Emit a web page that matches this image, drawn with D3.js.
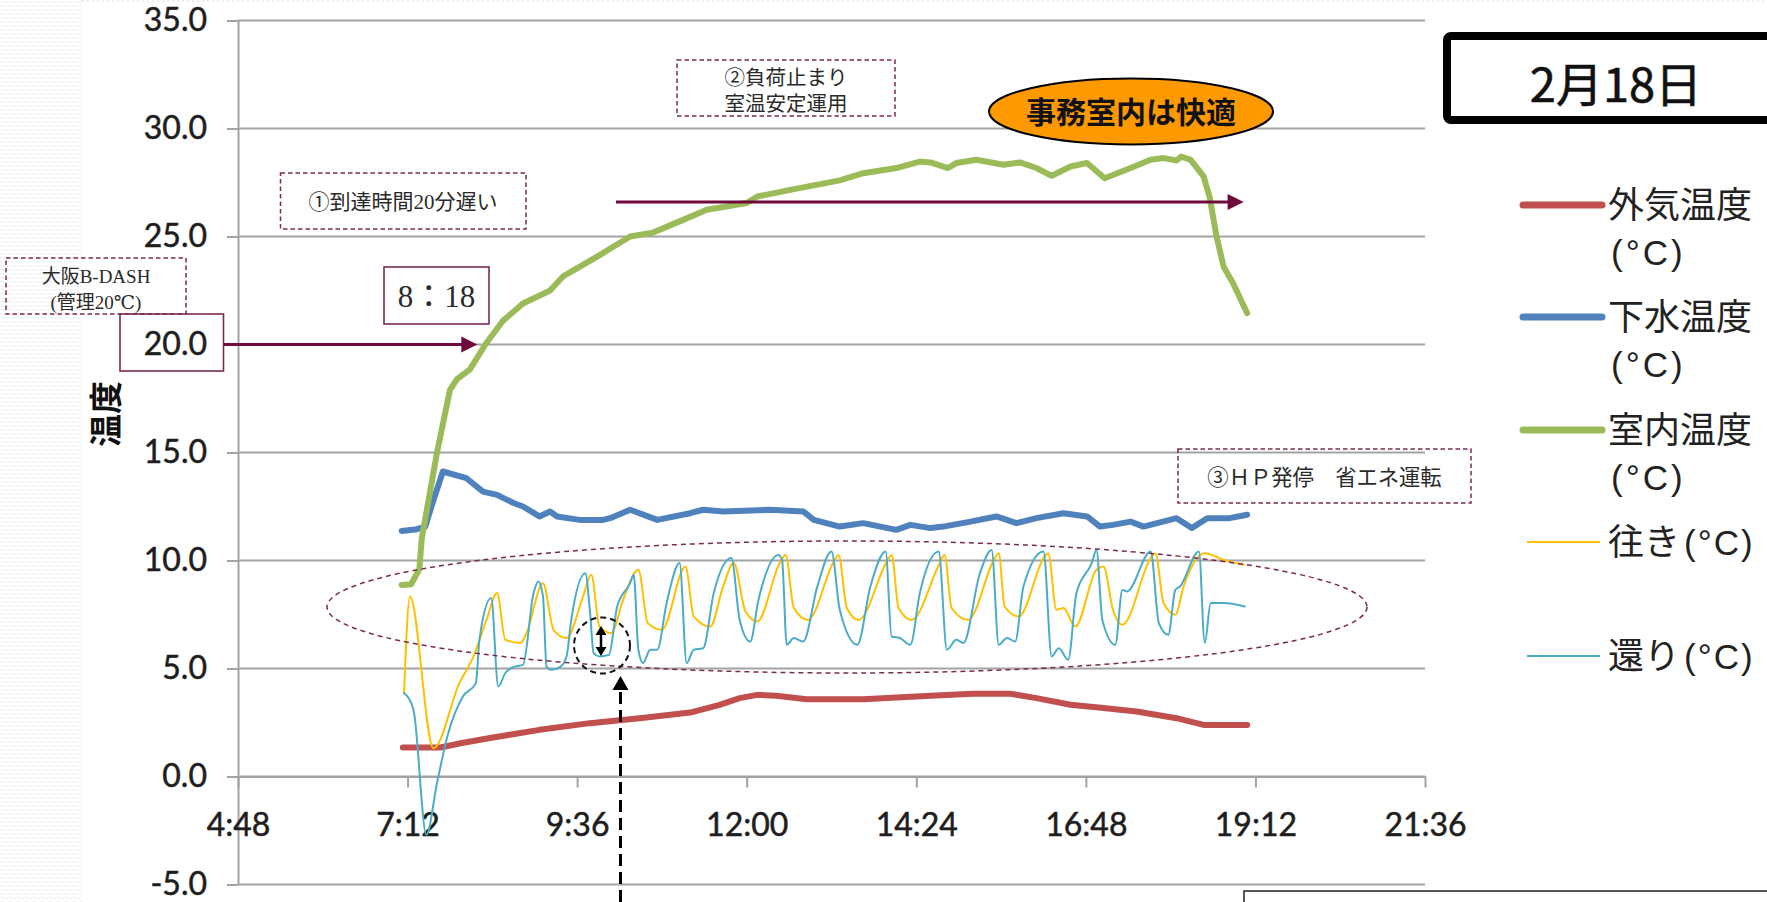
<!DOCTYPE html>
<html>
<head>
<meta charset="utf-8">
<script src="https://cdn.jsdelivr.net/npm/d3@7"></script>
<style>
  html, body { margin: 0; padding: 0; background: #fff; overflow: hidden; }
  svg { display: block; }
</style>
</head>
<body>
<svg id="chart" width="1767" height="902"></svg>
<script>
// ---------------- data ----------------
const xTickLabels = ["4:48", "7:12", "9:36", "12:00", "14:24", "16:48", "19:12", "21:36"];
const yTickValues = [-5, 0, 5, 10, 15, 20, 25, 30, 35];

// 外気温度 (outdoor air)
const outdoorTemp = [
  ["7:08", 1.34], ["7:40", 1.34], ["7:57", 1.54], ["8:22", 1.78], ["9:04", 2.16], ["9:47", 2.47],
  ["10:29", 2.70], ["11:12", 2.96], ["11:37", 3.32], ["11:54", 3.63], ["12:09", 3.78], ["12:25", 3.74],
  ["12:51", 3.58], ["13:39", 3.58], ["14:36", 3.74], ["15:12", 3.83], ["15:44", 3.83], ["16:06", 3.63],
  ["16:35", 3.32], ["17:03", 3.17], ["17:31", 3.01], ["18:05", 2.70], ["18:28", 2.39], ["19:05", 2.39]
];

// 下水温度 (sewage water)
const sewageTemp = [
  ["7:07", 11.37], ["7:20", 11.45], ["7:27", 11.57], ["7:34", 12.8], ["7:42", 14.12], ["8:02", 13.81],
  ["8:16", 13.19], ["8:28", 13.04], ["8:42", 12.66], ["8:50", 12.50], ["9:04", 12.04], ["9:13", 12.27],
  ["9:19", 12.04], ["9:38", 11.88], ["9:58", 11.88], ["10:04", 11.96], ["10:21", 12.35], ["10:44", 11.88],
  ["11:12", 12.19], ["11:23", 12.35], ["11:40", 12.27], ["12:20", 12.35], ["12:48", 12.27], ["12:57", 11.88],
  ["13:19", 11.57], ["13:39", 11.73], ["14:07", 11.42], ["14:19", 11.65], ["14:36", 11.50], ["14:47", 11.57],
  ["15:10", 11.80], ["15:32", 12.04], ["15:49", 11.73], ["16:06", 11.96], ["16:29", 12.19], ["16:49", 12.04],
  ["17:00", 11.57], ["17:11", 11.65], ["17:26", 11.80], ["17:37", 11.57], ["18:05", 11.96], ["18:18", 11.50],
  ["18:31", 11.96], ["18:50", 11.96], ["19:05", 12.12]
];

// 室内温度 (office room)
const roomTemp = [
  ["7:07", 8.87], ["7:15", 8.90], ["7:22", 9.60], ["7:24", 11.0], ["7:37", 15.0], ["7:48", 17.9],
  ["7:54", 18.4], ["8:05", 18.85], ["8:18", 20.0], ["8:33", 21.1], ["8:50", 21.9], ["9:13", 22.5],
  ["9:24", 23.15], ["9:53", 24.07], ["10:21", 25.0], ["10:40", 25.17], ["11:03", 25.7], ["11:26", 26.24],
  ["12:00", 26.55], ["12:09", 26.85], ["12:37", 27.16], ["13:19", 27.6], ["13:39", 27.93], ["14:07", 28.17],
  ["14:27", 28.47], ["14:36", 28.43], ["14:51", 28.17], ["14:58", 28.4], ["15:15", 28.55], ["15:38", 28.32],
  ["15:52", 28.43], ["16:06", 28.17], ["16:19", 27.81], ["16:35", 28.24], ["16:49", 28.4], ["17:04", 27.7],
  ["17:26", 28.17], ["17:43", 28.55], ["17:54", 28.63], ["18:05", 28.52], ["18:09", 28.7], ["18:17", 28.55],
  ["18:28", 27.78], ["18:33", 26.85], ["18:39", 25.0], ["18:45", 23.6], ["18:53", 22.84], ["19:05", 21.45]
];

// 往き (supply water)
const supplyTemp = [
  ["7:09", 3.86], ["7:14", 8.33], ["7:34", 1.31], ["7:56", 4.32], ["8:08", 5.56], ["8:19", 7.25],
  ["8:28", 8.49], ["8:35", 6.33], ["8:48", 6.18], ["8:53", 6.64], ["9:07", 8.95], ["9:16", 6.79],
  ["9:27", 6.41], ["9:41", 8.33], ["9:48", 9.34], ["9:55", 6.94], ["10:05", 6.64], ["10:15", 8.18],
  ["10:28", 9.57], ["10:36", 7.10], ["10:48", 6.79], ["11:08", 9.72], ["11:15", 7.41], ["11:29", 6.94],
  ["11:40", 8.80], ["11:49", 9.88], ["11:59", 7.64], ["12:09", 7.18], ["12:28", 9.88], ["12:33", 10.26],
  ["12:40", 7.80], ["12:52", 7.25], ["13:14", 9.95], ["13:18", 10.26], ["13:25", 7.80], ["13:35", 7.25],
  ["13:59", 9.95], ["14:03", 10.26], ["14:09", 7.80], ["14:20", 7.25], ["14:44", 9.88], ["14:48", 10.26],
  ["14:54", 7.80], ["15:08", 7.25], ["15:30", 10.03], ["15:34", 10.34], ["15:39", 7.87], ["15:51", 7.41],
  ["16:13", 10.19], ["16:16", 10.34], ["16:23", 7.72], ["16:29", 7.80], ["16:39", 6.94], ["16:57", 9.57],
  ["17:03", 9.72], ["17:11", 7.72], ["17:19", 7.02], ["17:44", 10.19], ["17:47", 10.34], ["17:54", 8.03],
  ["18:04", 7.49], ["18:11", 8.80], ["18:29", 10.34], ["18:45", 10.03], ["19:02", 9.80]
];

// 還り (return water)
const returnTemp = [
  ["7:09", 3.86], ["7:17", 3.09], ["7:28", -2.7], ["7:37", -0.3], ["7:46", 1.9], ["7:59", 3.7],
  ["8:10", 4.32], ["8:13", 6.33], ["8:23", 8.26], ["8:29", 4.17], ["8:35", 4.79], ["8:43", 5.09],
  ["8:50", 5.17], ["8:59", 8.49], ["9:03", 9.03], ["9:07", 8.33], ["9:10", 5.09], ["9:14", 4.94],
  ["9:22", 5.09], ["9:27", 5.56], ["9:31", 7.25], ["9:43", 9.41], ["9:47", 7.56], ["9:50", 5.71],
  ["9:55", 5.56], ["10:03", 5.63], ["10:10", 7.87], ["10:21", 8.95], ["10:24", 9.34], ["10:28", 5.87],
  ["10:32", 5.25], ["10:38", 5.87], ["10:44", 5.87], ["10:52", 8.03], ["11:03", 9.88], ["11:09", 5.25],
  ["11:15", 5.87], ["11:23", 5.94], ["11:32", 8.49], ["11:47", 10.11], ["11:54", 7.25], ["12:03", 6.25],
  ["12:10", 8.18], ["12:27", 10.26], ["12:30", 10.03], ["12:34", 6.10], ["12:40", 6.41], ["12:48", 6.25],
  ["13:00", 8.80], ["13:12", 10.42], ["13:19", 7.72], ["13:34", 6.10], ["13:45", 8.80], ["13:58", 10.42],
  ["14:03", 6.48], ["14:10", 6.41], ["14:19", 6.10], ["14:27", 8.49], ["14:43", 10.42], ["14:50", 5.87],
  ["14:58", 6.33], ["15:04", 6.18], ["15:18", 9.41], ["15:28", 10.49], ["15:34", 6.10], ["15:41", 6.41],
  ["15:48", 6.25], ["15:55", 8.80], ["16:12", 10.42], ["16:19", 5.56], ["16:25", 5.94], ["16:33", 5.40],
  ["16:40", 8.49], ["16:53", 9.88], ["16:57", 10.49], ["17:02", 7.25], ["17:13", 6.10], ["17:19", 8.64],
  ["17:23", 8.57], ["17:43", 10.42], ["17:50", 7.10], ["17:58", 6.56], ["18:04", 8.64], ["18:08", 8.80],
  ["18:24", 10.42], ["18:29", 6.18], ["18:34", 8.03], ["18:45", 8.03], ["19:03", 7.87]
];

const seriesNames = ["外気温度", "下水温度", "室内温度", "往き", "還り"];
const seriesColors = ["#C0504D", "#4F81BD", "#9BBB59", "#FFC000", "#4BACC6"];
const seriesData = [outdoorTemp, sewageTemp, roomTemp, supplyTemp, returnTemp];
const unitLabel = "(°C)";
const dateLabel = "2月18日";
const yAxisTitle = "温度";

// ---------------- helpers ----------------
const hrs = s => { const [h, m] = s.split(":").map(Number); return h + m / 60; };
const svg = d3.select("#chart");
const W = 1767, H = 902;
const MAROON = "#7b2a52", ARROW = "#6e0b3c";
const tickFont = "Lato, 'Open Sans', 'Liberation Sans', sans-serif";
const jpSans = "'Noto Sans CJK JP', 'Noto Sans', sans-serif";
const unitFont = "'Liberation Sans', Arial, sans-serif";
const jpSerif = "'Liberation Serif', 'DejaVu Serif', 'Noto Sans CJK JP', serif";

const defs = svg.append("defs");
const pat = defs.append("pattern").attr("id", "weave")
  .attr("width", 8).attr("height", 4).attr("patternUnits", "userSpaceOnUse");
pat.append("path").attr("d", "M0,2 Q2,0.5 4,2 T8,2")
  .attr("fill", "none").attr("stroke", "#ebebeb").attr("stroke-width", 0.8);
defs.append("filter").attr("id", "soft").append("feGaussianBlur").attr("stdDeviation", 0.6);

// page background
svg.append("rect").attr("width", W).attr("height", H).attr("fill", "#fff");
svg.append("rect").attr("x", 0).attr("y", 0).attr("width", 82).attr("height", H).attr("fill", "url(#weave)");
svg.append("line").attr("x1", 82).attr("x2", W).attr("y1", 1).attr("y2", 1)
  .attr("stroke", "#dcdcdc").attr("stroke-dasharray", "2,3");

// ---------------- scales ----------------
const x = d3.scaleLinear()
  .domain([hrs(xTickLabels[0]), hrs(xTickLabels[xTickLabels.length - 1])])
  .range([238, 1425]);
const y = d3.scaleLinear().domain([-5, 35]).range([884.5, 20.5]);

// ---------------- grid ----------------
const GRID = "#a3a3a3";
svg.append("g").selectAll("line").data(yTickValues).join("line")
  .attr("x1", x.range()[0]).attr("x2", x.range()[1])
  .attr("y1", d => y(d)).attr("y2", d => y(d))
  .attr("stroke", GRID).attr("stroke-width", 2);

// y axis
const yAxis = svg.append("g").attr("transform", `translate(${x.range()[0]},0)`)
  .call(d3.axisLeft(y).tickValues(yTickValues).tickFormat(d => d.toFixed(1))
    .tickSize(11).tickSizeOuter(0).tickPadding(20));
yAxis.select(".domain").attr("stroke", GRID).attr("stroke-width", 2);
yAxis.selectAll(".tick line").attr("stroke", GRID).attr("stroke-width", 2);
yAxis.selectAll("text").attr("font-family", tickFont).attr("font-size", 32).attr("fill", "#1e1e1e")
  .attr("stroke", "#1e1e1e").attr("stroke-width", 0.5);

// x axis sits on the 0 line
const xAxis = svg.append("g").attr("transform", `translate(0,${y(0)})`)
  .call(d3.axisBottom(x).tickValues(xTickLabels.map(hrs)).tickFormat((d, i) => xTickLabels[i])
    .tickSize(11).tickSizeOuter(0).tickPadding(26));
xAxis.select(".domain").attr("stroke", GRID).attr("stroke-width", 2);
xAxis.selectAll(".tick line").attr("stroke", GRID).attr("stroke-width", 2);
xAxis.selectAll("text").attr("font-family", tickFont).attr("font-size", 32).attr("fill", "#1e1e1e")
  .attr("stroke", "#1e1e1e").attr("stroke-width", 0.5);

// y axis title
svg.append("text").attr("transform", "translate(118,414) rotate(-90)")
  .attr("text-anchor", "middle").attr("font-family", jpSans).attr("font-weight", 700)
  .attr("font-size", 33).attr("fill", "#111").text(yAxisTitle);

// ---------------- series ----------------
const widths = [6, 6, 6, 2, 2];
const lineThick = d3.line().x(d => x(hrs(d[0]))).y(d => y(d[1]));
const lineThin = d3.line().x(d => x(hrs(d[0]))).y(d => y(d[1])).curve(d3.curveMonotoneX);
seriesData.forEach((data, i) => {
  const thick = widths[i] > 3;
  svg.append("path").datum(data).attr("d", thick ? lineThick : lineThin)
    .attr("fill", "none").attr("stroke", seriesColors[i]).attr("stroke-width", widths[i])
    .attr("stroke-linejoin", "round").attr("stroke-linecap", "round")
    .attr("filter", thick ? "url(#soft)" : null);
});

// ---------------- legend ----------------
const legendY = [205, 317, 430, 542, 656];
const lg = svg.append("g");
seriesNames.forEach((name, i) => {
  const thick = widths[i] > 3;
  lg.append("line")
    .attr("x1", thick ? 1523 : 1527).attr("x2", thick ? 1602 : 1600)
    .attr("y1", legendY[i]).attr("y2", legendY[i])
    .attr("stroke", seriesColors[i]).attr("stroke-width", thick ? 7 : 2.2)
    .attr("stroke-linecap", thick ? "round" : "butt");
  const t = lg.append("text").attr("x", 1608).attr("y", legendY[i] + 13)
    .attr("font-family", jpSans).attr("font-size", 36).attr("fill", "#222");
  if (thick) {
    t.text(name);
    // unit on its own line, in a font with a compact line box
    lg.append("text").attr("x", 1611).attr("y", legendY[i] + 60)
      .attr("font-family", unitFont).attr("font-size", 35).attr("fill", "#222")
      .attr("letter-spacing", 3).text(unitLabel);
  } else {
    t.text(name);
    t.append("tspan").attr("font-family", unitFont).attr("font-size", 35)
      .attr("letter-spacing", 2).attr("dx", 4).text(unitLabel);
  }
});

// date box
svg.append("rect").attr("x", 1447).attr("y", 36).attr("width", 420).attr("height", 84)
  .attr("rx", 4).attr("fill", "#fff").attr("stroke", "#000").attr("stroke-width", 8);
svg.append("text").attr("x", 1616).attr("y", 102).attr("text-anchor", "middle")
  .attr("font-family", jpSans).attr("font-size", 47).attr("fill", "#111")
  .attr("stroke", "#111").attr("stroke-width", 0.6).text(dateLabel);

// ---------------- annotations ----------------
const ann = svg.append("g");

function dashedBox(x0, y0, x1, y1) {
  ann.append("rect").attr("x", x0).attr("y", y0).attr("width", x1 - x0).attr("height", y1 - y0)
    .attr("fill", "none").attr("stroke", MAROON).attr("stroke-width", 1.5)
    .attr("stroke-dasharray", "4.5,3");
}
function solidBox(x0, y0, x1, y1) {
  ann.append("rect").attr("x", x0).attr("y", y0).attr("width", x1 - x0).attr("height", y1 - y0)
    .attr("fill", "none").attr("stroke", MAROON).attr("stroke-width", 1.6);
}
function label(cx, cy, txt, size) {
  ann.append("text").attr("x", cx).attr("y", cy).attr("dy", "0.36em").attr("text-anchor", "middle")
    .attr("font-family", jpSerif).attr("font-size", size).attr("fill", "#2a2a2a").text(txt);
}
function arrowRight(x0, x1, yy) {
  ann.append("line").attr("x1", x0).attr("x2", x1 - 14).attr("y1", yy).attr("y2", yy)
    .attr("stroke", ARROW).attr("stroke-width", 3);
  ann.append("path").attr("d", `M${x1},${yy} L${x1 - 16},${yy - 8} L${x1 - 16},${yy + 8} Z`).attr("fill", ARROW);
}

// ① reach time note
dashedBox(280.5, 173, 526, 229);
label(403, 201, "①到達時間20分遅い", 21);

// Osaka B-DASH note
dashedBox(6, 258, 186, 314);
label(96, 276, "大阪B-DASH", 19);
label(96, 302, "(管理20℃)", 19);

// boxed 20.0 tick and arrow to the 20 ℃ crossing
solidBox(120, 314, 223.5, 371);
arrowRight(223.5, x(hrs("8:18")) - 8, y(20));

// 8:18 box
solidBox(384, 267, 489, 324);
label(436.5, 295.5, "8：18", 31);

// ② stable operation note and arrow
dashedBox(677, 60, 895, 116);
label(786, 78, "②負荷止まり", 20.5);
label(786, 104, "室温安定運用", 20.5);
arrowRight(x(hrs("10:09")), x(hrs("19:02")), y(26.6));

// comfort bubble
ann.append("ellipse").attr("cx", 1131).attr("cy", 111.5).attr("rx", 142).attr("ry", 33)
  .attr("fill", "#FF9900").attr("stroke", "#000").attr("stroke-width", 2);
ann.append("text").attr("x", 1131).attr("y", 112).attr("dy", "0.36em").attr("text-anchor", "middle")
  .attr("font-family", jpSans).attr("font-weight", 700).attr("font-size", 30).attr("fill", "#111")
  .text("事務室内は快適");

// ③ HP on/off note
dashedBox(1178, 449, 1471, 503);
label(1324.5, 477, "③ＨＰ発停　省エネ運転", 21.3);

// ellipse around the supply / return cycling
ann.append("ellipse").attr("cx", 847).attr("cy", 607).attr("rx", 520).attr("ry", 66)
  .attr("fill", "none").attr("stroke", MAROON).attr("stroke-width", 1.5).attr("stroke-dasharray", "5,4");

// small circle with double arrow (temperature difference)
ann.append("circle").attr("cx", 602).attr("cy", 645.5).attr("r", 28)
  .attr("fill", "none").attr("stroke", "#111").attr("stroke-width", 2).attr("stroke-dasharray", "6,4");
ann.append("line").attr("x1", 601).attr("x2", 601).attr("y1", 633).attr("y2", 649)
  .attr("stroke", "#000").attr("stroke-width", 2.5);
ann.append("path").attr("d", "M601,626 L595.5,635 L606.5,635 Z").attr("fill", "#000");
ann.append("path").attr("d", "M601,656 L595.5,647 L606.5,647 Z").attr("fill", "#000");

// dashed pointer from below
ann.append("line").attr("x1", 620.5).attr("x2", 620.5).attr("y1", 902).attr("y2", 688)
  .attr("stroke", "#000").attr("stroke-width", 3).attr("stroke-dasharray", "12,6");
ann.append("path").attr("d", "M620.5,676 L612.5,690 L628.5,690 Z").attr("fill", "#000");

// frame edge of the next panel at the bottom right
svg.append("rect").attr("x", 1244).attr("y", 891).attr("width", 600).attr("height", 60)
  .attr("fill", "#fff").attr("stroke", "#222").attr("stroke-width", 1.5);
</script>
</body>
</html>
